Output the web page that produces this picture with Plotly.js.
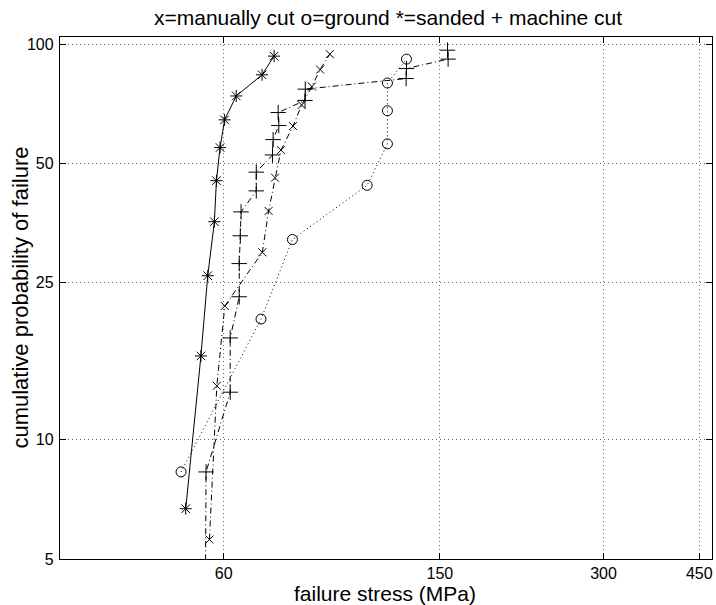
<!DOCTYPE html>
<html>
<head>
<meta charset="utf-8">
<script src="https://cdn.plot.ly/plotly-3.0.1.min.js"></script>
<style>html,body{margin:0;padding:0;background:#fff;}#chart{width:716px;height:605px;}</style>
</head>
<body>
<div id="chart"></div>
<script>
// star: sanded
const starStress = [51.1, 54.5, 56.1, 57.7, 58.2, 59.1, 60.25, 63.3, 70.6, 74.3];
const starProb   = [6.7, 16.3, 26.0, 35.6, 45.2, 54.8, 64.4, 74.0, 83.7, 93.3];
// x: manually cut
const xStress = [56.5, 58.3, 60.3, 70.7, 72.6, 74.6, 76.5, 80.5, 83.5, 87.2, 90.3, 94.1];
const xProb   = [5.6, 13.7, 21.8, 29.8, 37.9, 46.0, 54.0, 62.1, 70.2, 78.2, 86.3, 94.4];
// +: machine cut
const plusStress = [55.5, 55.7, 61.7, 61.7, 64.1, 64.1, 64.4, 64.6, 68.9, 68.9, 73.8, 74.0, 75.8, 75.6, 84.7, 84.8, 130.0, 130.2, 155.3, 154.9];
const plusProb   = [3.4, 8.3, 13.2, 18.1, 23.0, 27.9, 32.8, 37.7, 42.6, 47.5, 52.5, 57.4, 62.3, 67.2, 72.1, 77.0, 81.9, 86.8, 91.7, 96.6];
// o: ground
const oStress = [50.1, 70.3, 80.3, 110.2, 120.1, 120.1, 120.1, 130.2];
const oProb   = [8.3, 20.2, 32.1, 44.0, 56.0, 67.9, 79.8, 91.7];

const xTicks = [60, 150, 300, 450];
const yTicks = [5, 10, 25, 50, 100];

const FONT = 'Liberation Sans, Arial, Helvetica, sans-serif';
const dashDot = "6px,3px,1px,3px";
const traces = [
  {x: starStress, y: starProb, mode: 'lines+markers', line: {color: '#000', width: 1},
   marker: {symbol: 'asterisk-open', size: 10, color: '#000', line: {color: '#000', width: 1}}},
  {x: xStress, y: xProb, mode: 'lines+markers', line: {color: '#000', width: 1, dash: dashDot},
   marker: {symbol: 'x-thin-open', size: 8, color: '#000', line: {color: '#000', width: 1}}},
  {x: plusStress, y: plusProb, mode: 'lines+markers', line: {color: '#000', width: 1, dash: dashDot},
   marker: {symbol: 'cross-thin-open', size: 11, color: '#000', line: {color: '#000', width: 1}}},
  {x: oStress, y: oProb, mode: 'lines+markers', line: {color: '#000', width: 1, dash: "1px,3px"},
   marker: {symbol: 'circle-open', size: 10, color: '#000', line: {color: '#000', width: 1}}}
];

const axisCommon = {
  type: 'log', showline: true, linecolor: '#000', linewidth: 1.2, mirror: 'ticks',
  ticks: 'inside', ticklen: 6, tickcolor: '#000', tickwidth: 1,
  showgrid: true, gridcolor: '#666', gridwidth: 1, griddash: '1px,3px',
  zeroline: false, tickfont: {family: FONT, size: 16, color: '#000'}
};

const layout = {
  width: 716, height: 605,
  margin: {l: 60, r: 4, t: 37, b: 46},
  paper_bgcolor: '#fff', plot_bgcolor: '#fff',
  showlegend: false,
  font: {family: FONT, color: '#000'},
  title: {text: 'x=manually cut o=ground *=sanded + machine cut',
          font: {family: FONT, size: 21, color: '#000'}, x: 0.542, xanchor: 'center', y: 0.971, yanchor: 'middle'},
  xaxis: Object.assign({}, axisCommon, {
    range: [Math.log10(30), Math.log10(475)],
    tickmode: 'array', tickvals: xTicks, ticktext: xTicks.map(String), ticklabelstandoff: 0
  }),
  yaxis: Object.assign({}, axisCommon, {
    range: [Math.log10(5), Math.log10(104.3)],
    tickmode: 'array', tickvals: yTicks, ticktext: yTicks.map(String), ticklabelstandoff: 2
  }),
  annotations: [
    {text: 'failure stress (MPa)', xref: 'paper', yref: 'paper', x: 0.499, y: -0.066,
     xanchor: 'center', yanchor: 'middle', showarrow: false, font: {family: FONT, size: 21, color: '#000'}},
    {text: 'cumulative probability of failure', xref: 'paper', yref: 'paper', x: -0.062, y: 0.5,
     xanchor: 'center', yanchor: 'middle', textangle: -90, showarrow: false, font: {family: FONT, size: 22, color: '#000'}}
  ]
};

Plotly.newPlot('chart', traces, layout, {displayModeBar: false, staticPlot: true});
</script>
</body>
</html>
